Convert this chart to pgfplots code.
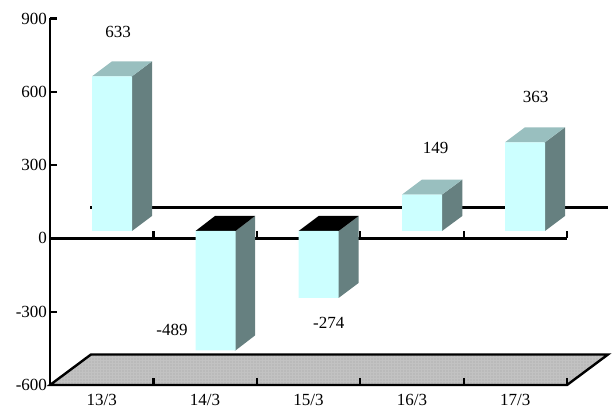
\documentclass[border=0pt]{standalone}
\usepackage{fontspec}
\setmainfont{Liberation Serif}
\usepackage{pgfplots}
\usetikzlibrary{patterns.meta}
\pgfplotsset{compat=1.18}
\definecolor{frontc}{HTML}{CCFFFF}
\definecolor{sidec}{HTML}{668080}
\definecolor{topc}{HTML}{99BFBF}
\definecolor{floorc}{HTML}{C2C2C2}
\definecolor{floord}{HTML}{A0A0A0}
\newcommand{\lbl}{\fontsize{17}{20}\selectfont}
\pgfplotsset{
  base/.style={scale only axis, width=517pt, height=366.5pt, xmin=50, xmax=567,
    clip=false, at={(0pt,0pt)}, anchor=south west},
}
\begin{document}
\begin{tikzpicture}
\path[use as bounding box] (-50pt,-25pt) rectangle (563pt,385pt);
% floor and back wall line
\begin{axis}[base, ymin=-600, ymax=900, hide axis]
\addplot[fill=floorc, draw=none] coordinates {(50,-600)(91,-475)(608,-475)(567,-600)} -- cycle;
\addplot[draw=none, pattern={Dots[distance=3pt, radius=0.55pt]}, pattern color=floord] coordinates {(50,-600)(91,-475)(608,-475)(567,-600)} -- cycle;
\addplot[draw=black, line width=2.4pt, line join=miter] coordinates {(50,-600)(91,-475)(608,-475)(567,-600)} -- cycle;
\addplot[black, line width=2.4pt] coordinates {(90,126)(608,126)};
\end{axis}
% axes
\begin{axis}[base, ymin=-600, ymax=900,
  axis x line=bottom, axis y line=left,
  axis line style={-, line width=2.7pt, black},
  ytick={-600,-300,0,300,600,900},
  yticklabels={-600,-300,0,300,600,900},
  xtick={101.7,205.1,308.5,411.9,515.3},
  xticklabels={13/3,14/3,15/3,16/3,17/3},
  minor xtick={153.4,256.8,360.2,463.6,567},
  tick align=inside,
  major tick length=7.5pt, minor tick length=7.5pt,
  y tick style={black, line width=2.2pt},
  major x tick style={draw=none},
  minor x tick style={black, line width=2.2pt},
  tick label style={font=\lbl},
  xticklabel style={yshift=-5.5pt},
  yticklabel style={xshift=0.5pt},
  unbounded coords=jump]
\addplot[black, line width=2.7pt] coordinates {(50,0)(567,0)};
\addplot[black, line width=2.2pt] coordinates {(153.4,0)(153.4,30) (153.4,nan) (256.8,0)(256.8,30) (256.8,nan) (360.2,0)(360.2,30) (360.2,nan) (463.6,0)(463.6,30) (463.6,nan) (567,0)(567,30)};
\end{axis}
% bars; value 0 lies on the front plane, 30 units above the zero line
\begin{axis}[base, ymin=-630.3, ymax=869.7, hide axis]
% side faces (each reaches 1 unit under its front face)
\addplot[fill=sidec, draw=none] coordinates {(131,0)(132,0)(152,61.4)(152,694.4)(132,633)(131,633)} -- cycle;
\addplot[fill=sidec, draw=none] coordinates {(234.5,-489)(235.5,-489)(255,-427.6)(255,61.4)(235.5,0)(234.5,0)} -- cycle;
\addplot[fill=sidec, draw=none] coordinates {(337.6,-274)(338.6,-274)(358.6,-212.6)(358.6,61.4)(338.6,0)(337.6,0)} -- cycle;
\addplot[fill=sidec, draw=none] coordinates {(441,0)(442,0)(462.3,61.4)(462.3,210.4)(442,149)(441,149)} -- cycle;
\addplot[fill=sidec, draw=none] coordinates {(544,0)(545,0)(565,61.4)(565,424.4)(545,363)(544,363)} -- cycle;
% top faces
\addplot[fill=topc, draw=none] coordinates {(92,633)(112,694.4)(152,694.4)(132,633)} -- cycle;
\addplot[fill=black, draw=none] coordinates {(195.5,0)(215,61.4)(255,61.4)(235.5,0)} -- cycle;
\addplot[fill=black, draw=none] coordinates {(298.6,0)(318.6,61.4)(358.6,61.4)(338.6,0)} -- cycle;
\addplot[fill=topc, draw=none] coordinates {(402,149)(422,210.4)(462.3,210.4)(442,149)} -- cycle;
\addplot[fill=topc, draw=none] coordinates {(505,363)(525,424.4)(565,424.4)(545,363)} -- cycle;
% front faces
\addplot[ybar, bar width=40pt, bar shift=0pt, fill=frontc, draw=none] coordinates {(112,633)(215.5,-489)(318.6,-274)(422,149)(525,363)};
% value labels
\addplot[draw=none, mark=none, point meta=explicit symbolic,
  nodes near coords, nodes near coords align={anchor=center},
  every node near coord/.append style={font=\lbl, anchor=center, text=black}]
  coordinates {(118,814.6)[633] (172,-405)[-489] (328.7,-376.6)[-274] (435.7,338.5)[149] (535.5,548.5)[363]};
\end{axis}
\end{tikzpicture}
\end{document}
